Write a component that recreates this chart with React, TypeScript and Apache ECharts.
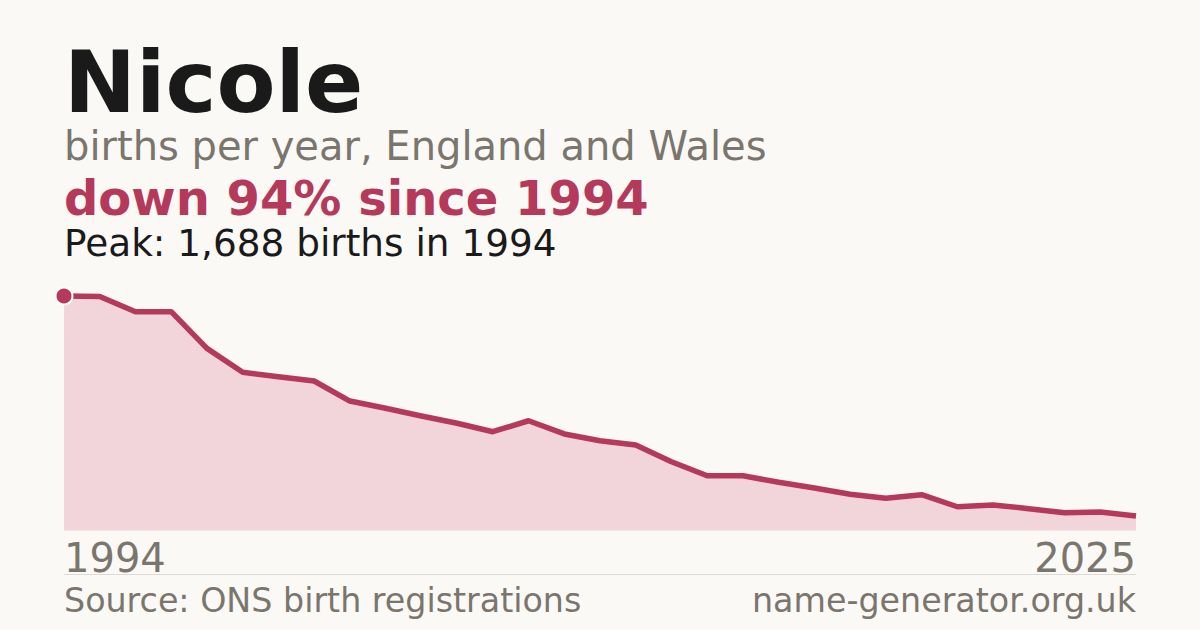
import * as echarts from 'echarts';
import React, { useEffect, useRef } from 'react';

// years on the x axis (one point per year)
const years = [
  '1994', '1995', '1996', '1997', '1998', '1999', '2000', '2001', '2002', '2003', '2004',
  '2005', '2006', '2007', '2008', '2009', '2010', '2011', '2012', '2013', '2014', '2015',
  '2016', '2017', '2018', '2019', '2020', '2021', '2022', '2023', '2024',
];

// births per year
const births = [
  1688, 1684, 1575, 1575, 1311, 1139, 1107, 1076, 932, 880, 824,
  772, 711, 790, 695, 646, 615, 495, 394, 394, 347, 306,
  261, 232, 258, 171, 184, 157, 128, 133, 104,
];

// labels shown under the two ends of the axis
const endLabels = ['1994', '2025'];

const peakValue = 1688;

const BG = '#faf9f5';
const ACCENT = '#b5395a';
const GREY = '#7a756d';
const INK = '#1a1a1a';
const FONT = '"DejaVu Sans", sans-serif';

const App = () => {
  const chartRef = useRef<HTMLDivElement>(null);

  useEffect(() => {
    if (!chartRef.current) return;
    const chart = echarts.init(chartRef.current, null, { renderer: 'svg' });

    const lastIndex = years.length - 1;

    chart.setOption({
      animation: false,
      backgroundColor: BG,
      grid: { left: 64, right: 64, top: 296, bottom: 99.5 },
      xAxis: {
        type: 'category',
        data: years,
        boundaryGap: false,
        axisLine: { show: false },
        axisTick: { show: false },
        splitLine: { show: false },
        axisLabel: {
          interval: (index: number) => index === 0 || index === lastIndex,
          formatter: (_value: string, index: number) => (index === 0 ? endLabels[0] : endLabels[1]),
          alignMinLabel: 'left',
          alignMaxLabel: 'right',
          verticalAlign: 'middle',
          margin: 27.7,
          color: GREY,
          fontFamily: FONT,
          fontSize: 40,
        },
      },
      yAxis: {
        type: 'value',
        min: 0,
        max: peakValue,
        show: false,
        splitLine: { show: false },
      },
      series: [
        {
          type: 'line',
          data: births.map((v, i) =>
            i === 0
              ? {
                  value: v,
                  symbol: 'circle',
                  symbolSize: 17,
                  itemStyle: { color: ACCENT, borderColor: '#ffffff', borderWidth: 2 },
                }
              : v,
          ),
          symbol: 'none',
          showSymbol: true,
          clip: false,
          lineStyle: { color: ACCENT, width: 5.5, join: 'round' },
          areaStyle: { color: '#f2d5da', opacity: 1 },
          itemStyle: { color: ACCENT },
          z: 2,
        },
      ],
      graphic: [
        {
          type: 'text',
          x: 64,
          y: 82.2,
          style: { text: 'Nicole', fill: INK, font: `bold 86px ${FONT}`, verticalAlign: 'middle' },
        },
        {
          type: 'text',
          x: 64,
          y: 146.4,
          style: {
            text: 'births per year, England and Wales',
            fill: GREY,
            font: `40px ${FONT}`,
            verticalAlign: 'middle',
          },
        },
        {
          type: 'text',
          x: 64,
          y: 197.7,
          style: {
            text: 'down 94% since 1994',
            fill: ACCENT,
            font: `bold 48px ${FONT}`,
            verticalAlign: 'middle',
          },
        },
        {
          type: 'text',
          x: 64,
          y: 243,
          style: {
            text: 'Peak: 1,688 births in 1994',
            fill: INK,
            font: `37.4px ${FONT}`,
            verticalAlign: 'middle',
          },
        },
        {
          type: 'line',
          shape: { x1: 64, y1: 574.5, x2: 1136, y2: 574.5 },
          style: { stroke: '#dedbd4', lineWidth: 1 },
        },
        {
          type: 'text',
          x: 64,
          y: 600.4,
          style: {
            text: 'Source: ONS birth registrations',
            fill: GREY,
            font: `33.3px ${FONT}`,
            verticalAlign: 'middle',
          },
        },
        {
          type: 'text',
          x: 1136,
          y: 600.4,
          style: {
            text: 'name-generator.org.uk',
            fill: GREY,
            font: `33.3px ${FONT}`,
            align: 'right',
            verticalAlign: 'middle',
          },
        },
      ],
    });

    return () => {
      chart.dispose();
    };
  }, []);

  return (
    <div
      ref={chartRef}
      style={{ position: 'absolute', left: 0, top: 0, width: '1200px', height: '630px' }}
    />
  );
};

export default App;
